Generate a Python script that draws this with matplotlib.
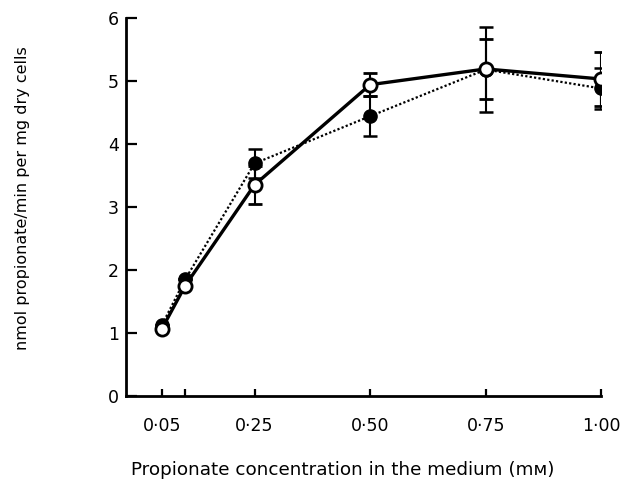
import matplotlib.pyplot as plt

# propionate concentration (mM)
conc = [0.05, 0.1, 0.25, 0.50, 0.75, 1.00]

# filled circles, dotted line
rate_filled = [1.13, 1.85, 3.69, 4.44, 5.18, 4.88]
err_filled = [0.0, 0.0, 0.23, 0.32, 0.67, 0.32]

# open circles, solid line
rate_open = [1.07, 1.75, 3.35, 4.94, 5.19, 5.03]
err_open = [0.0, 0.0, 0.30, 0.18, 0.47, 0.43]

xticks = [0.05, 0.1, 0.25, 0.50, 0.75, 1.00]
xticklabels = ["0·05", "", "0·25", "0·50", "0·75", "1·00"]
yticks = [0, 1, 2, 3, 4, 5, 6]

plt.rcParams["font.family"] = ["DejaVu Sans"]

fig = plt.figure(figsize=(6.38, 4.84), dpi=100)
ax = fig.add_axes([0.1975, 0.182, 0.745, 0.781])

ax.errorbar(conc, rate_filled, yerr=err_filled, fmt="o", linestyle=(0, (1, 1)),
            color="black", lw=1.6, ms=9.5, mfc="black", mec="black",
            elinewidth=1.5, capsize=5, capthick=1.8, zorder=2)
ax.errorbar(conc, rate_open, yerr=err_open, fmt="o", linestyle="-",
            color="black", lw=2.4, ms=9.5, mfc="white", mec="black", mew=2,
            elinewidth=1.5, capsize=5, capthick=1.8, zorder=3)

ax.set_xlim(-0.028, 1.0)
ax.set_ylim(0, 6)
ax.set_xticks(xticks)
ax.set_xticklabels(xticklabels)
ax.set_yticks(yticks)

for s in ("top", "right"):
    ax.spines[s].set_visible(False)
for s in ("left", "bottom"):
    ax.spines[s].set_linewidth(2)

ax.tick_params(direction="in", width=1.6, labelsize=12.5)
ax.tick_params(axis="x", length=5, pad=15)
ax.tick_params(axis="y", length=8, pad=5)

ax.set_xlabel("Propionate concentration in the medium (mᴍ)", fontsize=13.2, va="center")
ax.xaxis.set_label_coords(0.457, -0.196)
fig.text(0.035, 0.59, "nmol propionate/min per mg dry cells", rotation=90,
         ha="center", va="center", fontsize=11.5)

fig.savefig("out.png", dpi=100)
